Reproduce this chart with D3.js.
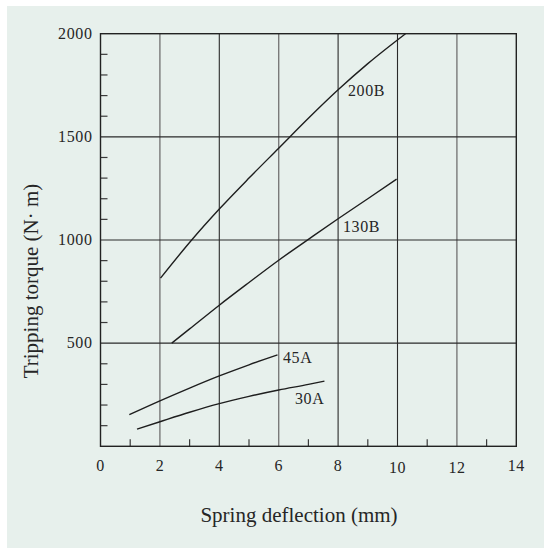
<!DOCTYPE html>
<html>
<head>
<meta charset="utf-8">
<script src="https://cdn.jsdelivr.net/npm/d3@7"></script>
<style>
  html, body { margin: 0; padding: 0; background: #ffffff; }
  svg { display: block; }
  text { font-family: "Liberation Serif", "DejaVu Serif", serif; fill: #262626; }
</style>
</head>
<body>
<svg id="chart" width="544" height="548"></svg>
<script>
// values
const xTicks = [0, 2, 4, 6, 8, 10, 12, 14];
const xMinor = [1, 3, 5, 7, 9, 11, 13];
const yTicks = [500, 1000, 1500, 2000];
const yMinor = [100, 200, 300, 400, 600, 700, 800, 900, 1100, 1200, 1300, 1400, 1600, 1700, 1800, 1900];

const curve200B = [[2.02, 815], [3.07, 1000], [4, 1150], [5, 1300], [6, 1445], [7, 1590], [8, 1728], [9, 1855], [10.27, 2000]];
const curve130B = [[2.4, 500], [3, 569], [4, 684], [5, 794], [6, 902], [7, 1003], [8, 1103], [9, 1200], [9.97, 1295]];
const curve45A = [[0.97, 153], [2, 220], [3, 282], [4, 341], [5, 395], [5.96, 443]];
const curve30A = [[1.23, 83], [2, 119], [3, 165], [4, 207], [5, 242], [6, 273], [7, 300], [7.54, 316]];

const series = [
  { name: "200B", points: curve200B, label: [348, 96] },
  { name: "130B", points: curve130B, label: [343, 232] },
  { name: "45A", points: curve45A, label: [283, 363] },
  { name: "30A", points: curve30A, label: [295, 404] }
];

const svg = d3.select("#chart");

svg.append("rect").attr("x", 7).attr("y", 6).attr("width", 537).attr("height", 542).attr("fill", "#e7f0ec");

const margin = { left: 100.5, top: 33.7, right: 516.3, bottom: 446.3 };
const x = d3.scaleLinear().domain([0, 14]).range([margin.left, margin.right]);
const y = d3.scaleLinear().domain([0, 2000]).range([margin.bottom, margin.top]);

const gGrid = svg.append("g");
const gLines = svg.append("g");
const gText = svg.append("g");

// vertical grid, some lighter than others as in the scan
const greyX = new Set([2, 6, 12]);
gGrid.selectAll("line.vx")
  .data(xTicks.filter((d) => d > 0 && d < 14))
  .join("line")
  .attr("x1", (d) => x(d)).attr("x2", (d) => x(d))
  .attr("y1", y(0)).attr("y2", y(2000))
  .attr("stroke", (d) => (greyX.has(d) ? "#7a7a7a" : "#2a2a2a"))
  .attr("stroke-width", (d) => (greyX.has(d) ? 1.4 : 1.1));

gGrid.selectAll("line.hy")
  .data(yTicks.filter((d) => d < 2000))
  .join("line")
  .attr("x1", x(0)).attr("x2", x(14))
  .attr("y1", (d) => y(d)).attr("y2", (d) => y(d))
  .attr("stroke", "#2a2a2a").attr("stroke-width", 1.1);

// minor ticks
gGrid.selectAll("line.mx")
  .data(xMinor)
  .join("line")
  .attr("x1", (d) => x(d)).attr("x2", (d) => x(d))
  .attr("y1", y(0)).attr("y2", y(0) - 7)
  .attr("stroke", "#3a3a3a").attr("stroke-width", 1.2);

gGrid.selectAll("line.my")
  .data(yMinor)
  .join("line")
  .attr("x1", x(0)).attr("x2", x(0) + 7)
  .attr("y1", (d) => y(d)).attr("y2", (d) => y(d))
  .attr("stroke", "#3a3a3a").attr("stroke-width", 1.2);

// frame
gGrid.append("rect")
  .attr("x", x(0)).attr("y", y(2000))
  .attr("width", x(14) - x(0)).attr("height", y(0) - y(2000))
  .attr("fill", "none").attr("stroke", "#222").attr("stroke-width", 1.4);

const line = d3.line()
  .x((d) => x(d[0]))
  .y((d) => y(d[1]))
  .curve(d3.curveMonotoneX);

gLines.selectAll("path")
  .data(series)
  .join("path")
  .attr("d", (d) => line(d.points))
  .attr("fill", "none")
  .attr("stroke", "#1e1e1e")
  .attr("stroke-width", 1.4);

gText.selectAll("text.lab")
  .data(series)
  .join("text")
  .attr("x", (d) => d.label[0])
  .attr("y", (d) => d.label[1])
  .attr("font-size", 16)
  .attr("letter-spacing", 0.6)
  .text((d) => d.name);

// tick labels
gText.selectAll("text.xt")
  .data(xTicks)
  .join("text")
  .attr("x", (d) => x(d))
  .attr("y", (d) => (d >= 10 && d < 14 ? 473 : 471))
  .attr("text-anchor", "middle")
  .attr("font-size", 16)
  .attr("letter-spacing", 0.5)
  .text((d) => d);

gText.selectAll("text.yt")
  .data(yTicks)
  .join("text")
  .attr("x", x(0) - 8)
  .attr("y", (d) => y(d) + 5)
  .attr("text-anchor", "end")
  .attr("font-size", 16)
  .attr("letter-spacing", 0.6)
  .text((d) => d);

gText.append("text")
  .attr("x", 299)
  .attr("y", 522)
  .attr("text-anchor", "middle")
  .attr("font-size", 21)
  .text("Spring deflection (mm)");

gText.append("text")
  .attr("transform", "translate(38,281) rotate(-90)")
  .attr("text-anchor", "middle")
  .attr("font-size", 21)
  .text("Tripping torque (N· m)");
</script>
</body>
</html>
